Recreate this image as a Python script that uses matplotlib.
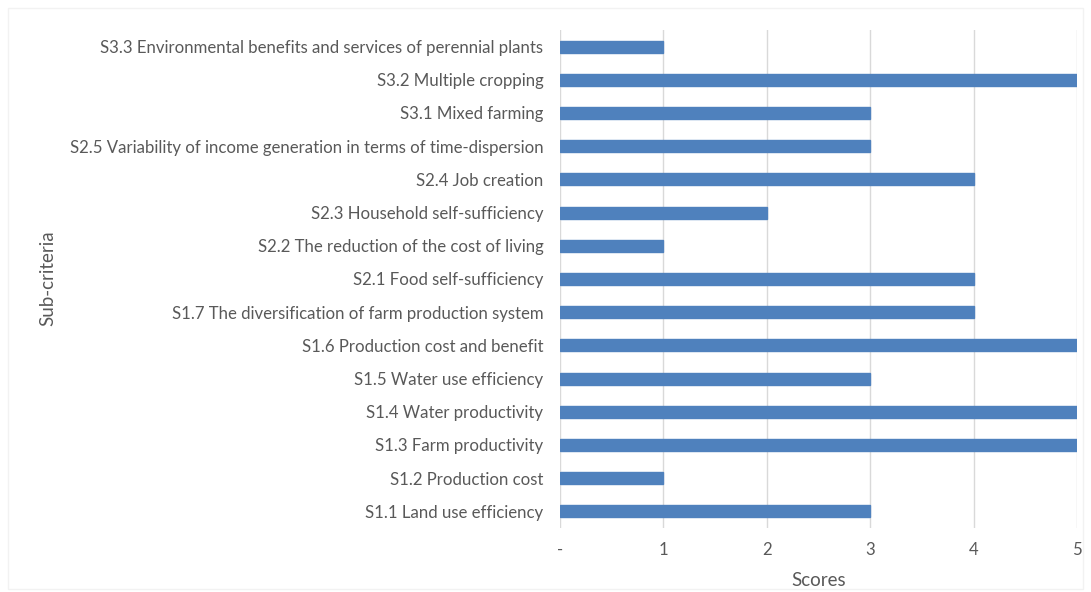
import matplotlib
matplotlib.use("Agg")
import matplotlib.pyplot as plt
from matplotlib.patches import Rectangle

categories = [
    "S1.1 Land use efficiency",
    "S1.2 Production cost",
    "S1.3 Farm productivity",
    "S1.4 Water productivity",
    "S1.5 Water use efficiency",
    "S1.6 Production cost and benefit",
    "S1.7 The diversification of farm production system",
    "S2.1 Food self-sufficiency",
    "S2.2 The reduction of the cost of living",
    "S2.3 Household self-sufficiency",
    "S2.4 Job creation",
    "S2.5 Variability of income generation in terms of time-dispersion",
    "S3.1 Mixed farming",
    "S3.2 Multiple cropping",
    "S3.3 Environmental benefits and services of perennial plants",
]
scores = [3, 1, 5, 5, 3, 5, 4, 4, 1, 2, 4, 3, 3, 5, 1]
xticks = [0, 1, 2, 3, 4, 5]
xticklabels = ["-", "1", "2", "3", "4", "5"]

plt.rcParams['font.family'] = ['Lato', 'DejaVu Sans']
fig = plt.figure(figsize=(10.91, 5.92), dpi=100)
ax = fig.add_axes([560/1091, 1-528/592, (1077-560)/1091, (528-30)/592])

ypos = list(range(len(categories)))
ax.barh(ypos, scores, height=0.36, color="#4f81bd", edgecolor="#4f81bd", zorder=3)
ax.set_ylim(-0.5, len(categories) - 0.5)
ax.set_xlim(0, 5)
ax.set_yticks(ypos)
ax.set_yticklabels(categories, fontsize=12.1, color="#595959")
ax.set_xticks(xticks)
ax.set_xticklabels(xticklabels, fontsize=12.1, color="#595959")
ax.tick_params(axis='y', length=0, pad=12)
ax.tick_params(axis='x', length=0, pad=10)
ax.grid(axis='x', color="#d9d9d9", linewidth=1, zorder=0)
for s in ax.spines.values():
    s.set_visible(False)
ax.set_xlabel("Scores", fontsize=13.5, color="#595959", labelpad=10)
fig.text(48/1091, 1-278/592, "Sub-criteria", rotation=90, fontsize=13.5, color="#595959",
         ha="center", va="center")
fig.patches.append(Rectangle((8/1091, 0.005), 1-16/1091, 1-8/592-0.005, transform=fig.transFigure,
                             fill=False, edgecolor="#f2f2f2", linewidth=1))
fig.savefig("out.png", dpi=100, facecolor="white")
